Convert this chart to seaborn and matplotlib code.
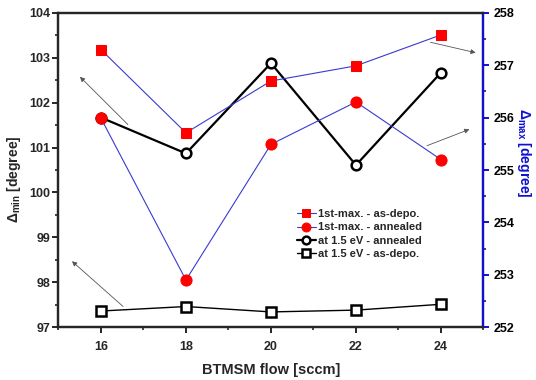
import numpy as np
import pandas as pd
import seaborn as sns
import matplotlib.pyplot as plt

# data
flow = [16, 18, 20, 22, 24]
max_asdepo = [257.30, 255.71, 256.70, 256.99, 257.58]     # right axis
max_annealed = [255.99, 252.90, 255.49, 256.30, 255.20]   # right axis
ev_annealed = [101.67, 100.87, 102.88, 100.61, 102.67]    # left axis
ev_asdepo = [97.36, 97.46, 97.34, 97.38, 97.51]           # left axis

sns.set_style('ticks')
plt.rcParams['font.family'] = ['Liberation Sans', 'DejaVu Sans']
plt.rcParams['font.weight'] = 'bold'
plt.rcParams['mathtext.fontset'] = 'custom'
plt.rcParams['mathtext.bf'] = 'Liberation Sans:bold'
plt.rcParams['mathtext.rm'] = 'Liberation Sans'

df = pd.DataFrame({'flow': flow, 'max_asdepo': max_asdepo, 'max_annealed': max_annealed,
                   'ev_annealed': ev_annealed, 'ev_asdepo': ev_asdepo})

fig = plt.figure(figsize=(5.36, 3.80), dpi=100)
ax = fig.add_axes([0.109, 0.139, 0.793, 0.827])
ax2 = ax.twinx()

blue = '#3a3ad0'
# right axis series (blue lines, red markers)
sns.lineplot(data=df, x='flow', y='max_asdepo', ax=ax2, color=blue, lw=0.8,
             marker='s', markersize=7.5, markerfacecolor='red', markeredgecolor='red',
             label='1st-max. - as-depo.', legend=False)
sns.lineplot(data=df, x='flow', y='max_annealed', ax=ax2, color=blue, lw=0.8,
             marker='o', markersize=8, markerfacecolor='red', markeredgecolor='red',
             label='1st-max. - annealed', legend=False)

# left axis series (black lines, open markers)
sns.lineplot(data=df, x='flow', y='ev_annealed', ax=ax, color='black', lw=1.6,
             marker='o', markersize=7, markerfacecolor='white', markeredgecolor='black',
             markeredgewidth=1.8, label='at 1.5 eV - annealed', legend=False)
sns.lineplot(data=df, x='flow', y='ev_asdepo', ax=ax, color='black', lw=1.0,
             marker='s', markersize=7, markerfacecolor='white', markeredgecolor='black',
             markeredgewidth=1.8, label='at 1.5 eV - as-depo.', legend=False)
ax2.patch.set_visible(False)

ax.set_xlim(15, 25)
ax.set_ylim(97, 104)
ax2.set_ylim(252, 258)
ax.set_xticks([16, 18, 20, 22, 24])
ax.set_xticks([15, 17, 19, 21, 23, 25], minor=True)
ax.set_yticks(np.arange(97, 105, 1))
ax.set_yticks(np.arange(97.5, 104, 1), minor=True)
ax2.set_yticks(np.arange(252, 259, 1))
ax2.set_yticks(np.arange(252.5, 258, 1), minor=True)

ax.set_xlabel('BTMSM flow [sccm]', fontsize=10.5, fontweight='bold', labelpad=7)
ax.set_ylabel(r'Δ$_{\mathbf{min}}$ [degree]', fontsize=10, fontweight='bold')
ax.yaxis.set_label_coords(-0.083, 0.47)
ax2.set_ylabel(r'Δ$_{\mathbf{max}}$ [degree]', fontsize=10, fontweight='bold',
               color='#1010d0', rotation=270)
ax2.yaxis.set_label_coords(1.117, 0.555)

for a in (ax, ax2):
    for s in a.spines.values():
        s.set_linewidth(1.6)
    a.tick_params(which='major', length=4, width=1.4, labelsize=9)
    a.tick_params(which='minor', length=2.5, width=1.2)
ax2.spines['right'].set_color('#1010d0')
ax2.tick_params(axis='y', which='both', colors='#1010d0', labelcolor='black')
ax.tick_params(axis='y', which='both', right=False)
ax.tick_params(axis='x', pad=6)
ax.tick_params(axis='y', pad=2)

# arrows pointing to the axis each series belongs to
arrow = dict(arrowstyle='-|>', color='#555555', lw=0.6, mutation_scale=7)
ax.annotate('', xy=(15.46, 102.62), xytext=(16.68, 101.47), arrowprops=arrow)
ax.annotate('', xy=(15.27, 98.51), xytext=(16.57, 97.42), arrowprops=arrow)
ax.annotate('', xy=(24.88, 103.10), xytext=(23.69, 103.36), arrowprops=arrow)
ax.annotate('', xy=(24.73, 101.43), xytext=(23.61, 101.02), arrowprops=arrow)

h2, l2 = ax2.get_legend_handles_labels()
h1, l1 = ax.get_legend_handles_labels()
ax2.legend(h2 + h1, l2 + l1, loc='upper left', bbox_to_anchor=(0.55, 0.39), frameon=False,
           handlelength=1.7, handletextpad=0.2, labelspacing=0.3, markerscale=0.8,
           borderaxespad=0, prop={'weight': 'bold', 'size': 8})

fig.savefig('out.png', dpi=100)
